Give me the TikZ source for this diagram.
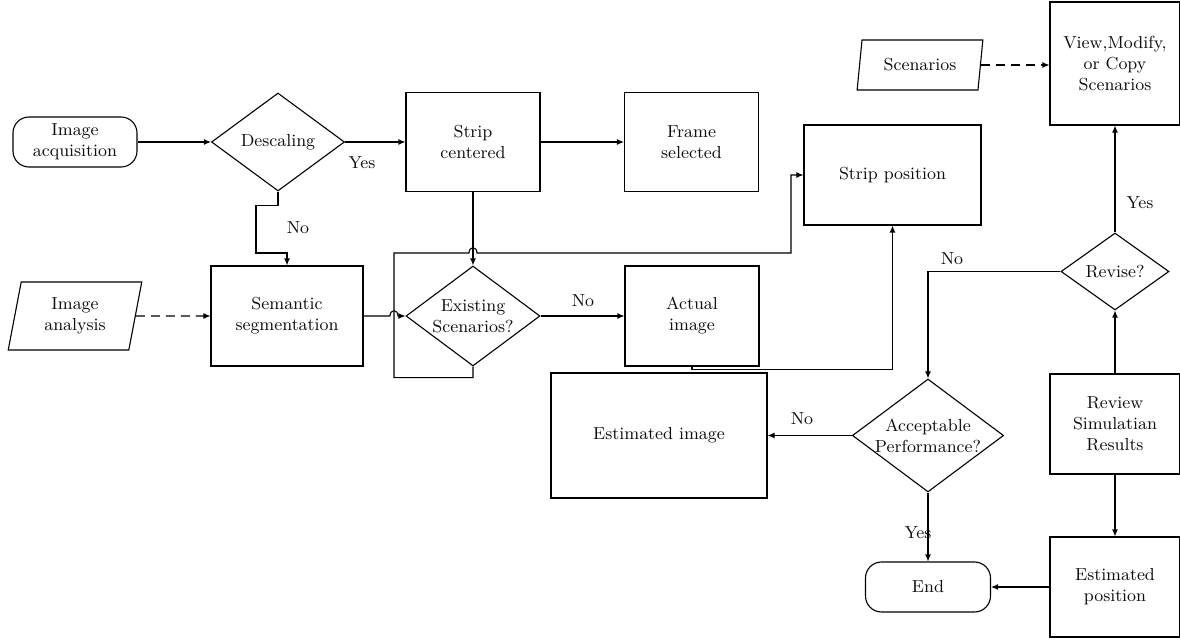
\documentclass[tikz,border=0pt]{standalone}
\usetikzlibrary{shapes.geometric,arrows.meta}

\tikzset{
	every node/.style={font=\fontsize{8.7}{10.5}\selectfont, align=center, text=black!95},
	box/.style={draw, line width=0.55pt, minimum width=67pt, minimum height=50pt, inner sep=1pt},
	terminal/.style={draw, line width=0.55pt, rounded corners=8pt, minimum width=62pt, minimum height=25pt, inner sep=1pt},
	decision/.style={draw, line width=0.55pt, diamond, aspect=1.34, inner sep=0pt},
	io/.style={draw, line width=0.55pt, trapezium, trapezium left angle=79, trapezium right angle=101,
		trapezium stretches=true, inner sep=1pt},
	conn/.style={line width=0.55pt, -{Latex[length=3.5pt,width=3pt]}},
	dconn/.style={conn, dash pattern=on 4.5pt off 3pt},
}

\begin{document}
\begin{tikzpicture}[x=0.5pt,y=-0.5pt]
	\useasboundingbox (0,0) rectangle (1180,642);

	% top row
	\node[terminal] (acq) at (75,142) {Image\\acquisition};
	\node[decision, minimum width=66.5pt, minimum height=49pt] (desc) at (278,142) {Descaling};
	\node[box, minimum height=49.5pt] (stripc) at (473,142) {Strip\\centered};
	\node[box, minimum height=49.5pt] (frame) at (691.5,142) {Frame\\selected};
	\node[box, minimum width=88.5pt] (strippos) at (892.5,175) {Strip position};
	\node[io, minimum width=63pt, minimum height=25pt] (scen) at (920,65) {Scenarios};
	\node[box, minimum width=65pt, minimum height=61.5pt] (view) at (1115,63.5) {View,Modify,\\or Copy\\Scenarios};

	% middle row
	\node[io, minimum width=67pt, minimum height=34pt] (analysis) at (75,316) {Image\\analysis};
	\node[box, minimum width=76pt] (semseg) at (287,316) {Semantic\\segmentation};
	\node[decision, minimum width=67pt, minimum height=50pt] (exist) at (473,316) {Existing\\Scenarios?};
	\node[box] (actual) at (692,316) {Actual\\image};
	\node[decision, minimum width=54pt, minimum height=38.5pt] (revise) at (1115,271.5) {Revise?};

	% bottom rows
	\node[box, minimum width=108pt, minimum height=62.5pt] (estimg) at (659,435.5) {Estimated image};
	\node[decision, minimum width=75.5pt, minimum height=56.5pt] (accept) at (928,435.5) {Acceptable\\Performance?};
	\node[box, minimum width=65pt] (review) at (1115,424) {Review\\Simulatian\\Results};
	\node[terminal, minimum width=62.5pt] (endn) at (928,587) {End};
	\node[box, minimum width=65pt] (estpos) at (1115,587) {Estimated\\position};

	% labels
	\node (yes1) at (362,163) {Yes};
	\node (no1) at (298,228) {No};
	\node (no2) at (583,301) {No};
	\node (no3) at (952,259) {No};
	\node (yes2) at (1140,203) {Yes};
	\node (no4) at (802,419) {No};
	\node (yes3) at (918,533) {Yes};

	% connectors
	\draw[conn] (acq) -- (desc);
	\draw[conn] (desc) -- (stripc);
	\draw[conn] (stripc) -- (frame);
	\draw[conn] (desc.south) -- ++(0,14) -| (256,253) -| (semseg.north);
	\draw[dconn] (analysis) -- (semseg);
	\draw[conn] (semseg.east) -- (390,316) .. controls (390,309) and (398,309) .. (398,316) -- (exist.west);
	\draw[conn] (stripc.south) -- (exist.north);
	\draw[conn] (exist.south) -- ++(0,11) -| (394,253) -- (469,253)
		.. controls (469,246) and (477,246) .. (477,253) -- (791,253) |- (strippos.west);
	\draw[conn] (exist) -- (actual);
	\draw[conn] (actual.south) -- ++(0,3) -| (strippos.south);
	\draw[dconn] (scen.east) -- (scen.east -| view.west);
	\draw[conn] (revise.north) -- (view.south);
	\draw[conn] (revise.west) -| (accept.north);
	\draw[conn] (review.north) -- (revise.south);
	\draw[conn] (review.south) -- (estpos.north);
	\draw[conn] (estpos.west) -- (endn.east);
	\draw[conn] (accept.west) -- (estimg.east);
	\draw[conn] (accept.south) -- (endn.north);
\end{tikzpicture}
\end{document}
